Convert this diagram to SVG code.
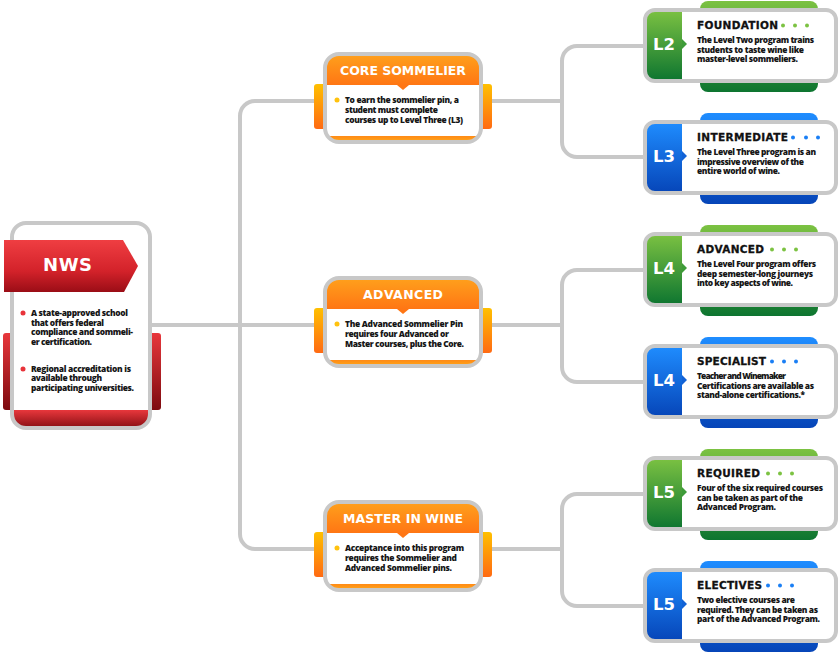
<svg xmlns="http://www.w3.org/2000/svg" width="840" height="652" viewBox="0 0 840 652">
<defs>
<style>
.frame{fill:none;stroke:#c8c8c8;stroke-width:4}
.conn{fill:none;stroke:#c8c8c8;stroke-width:4}
.hd{font-family:"DejaVu Sans",sans-serif;font-weight:700}
.oh{font-size:12.5px;fill:#fff;text-anchor:middle}
.ct{font-size:10.5px;fill:#111;stroke:#111;stroke-width:0.3}
.lbl{font-size:16.5px;fill:#fff;text-anchor:middle}
.b{font-family:"Open Sans","Liberation Sans",sans-serif;font-weight:800;font-size:8.4px;fill:#161616}
</style>
<linearGradient id="gRed" x1="0" y1="0" x2="0" y2="1"><stop offset="0" stop-color="#ef3e42"/><stop offset="0.6" stop-color="#d3222a"/><stop offset="1" stop-color="#9a0d16"/></linearGradient>
<linearGradient id="gRedTab" x1="0" y1="0" x2="0" y2="1"><stop offset="0" stop-color="#e8373c"/><stop offset="1" stop-color="#7d0a0f"/></linearGradient>
<linearGradient id="gOH" x1="0" y1="0" x2="0" y2="1"><stop offset="0" stop-color="#ffa11c"/><stop offset="1" stop-color="#ff7614"/></linearGradient>
<linearGradient id="gOT" x1="0" y1="0" x2="0" y2="1"><stop offset="0" stop-color="#ffc000"/><stop offset="1" stop-color="#ff6a13"/></linearGradient>
<linearGradient id="gOB" x1="0" y1="0" x2="0" y2="1"><stop offset="0" stop-color="#ff8a16"/><stop offset="1" stop-color="#ffb21a"/></linearGradient>
<linearGradient id="gG" x1="0" y1="0" x2="0" y2="1"><stop offset="0" stop-color="#7cc242"/><stop offset="1" stop-color="#0d7530"/></linearGradient>
<linearGradient id="gB" x1="0" y1="0" x2="0" y2="1"><stop offset="0" stop-color="#1f8dff"/><stop offset="1" stop-color="#0645b8"/></linearGradient>
<clipPath id="cpN"><rect x="12" y="223" width="138" height="205" rx="14"/></clipPath>
<clipPath id="cpO"><rect x="325" y="2" width="156" height="88" rx="14"/></clipPath>
<clipPath id="cpC"><rect x="645" y="2" width="191" height="71" rx="10"/></clipPath>
</defs>

<g id="connectors">
<path class="conn" d="M152 325 H314"/>
<path class="conn" d="M314 101 H255 A15 15 0 0 0 240 116 V534 A15 15 0 0 0 255 549 H314"/>
<path class="conn" d="M492 101 H562"/>
<path class="conn" d="M645 46 H577 A15 15 0 0 0 562 61 V142 A15 15 0 0 0 577 157 H645"/>
<path class="conn" d="M492 325 H562"/>
<path class="conn" d="M645 270 H577 A15 15 0 0 0 562 285 V367 A15 15 0 0 0 577 382 H645"/>
<path class="conn" d="M492 549 H562"/>
<path class="conn" d="M645 494 H577 A15 15 0 0 0 562 509 V591 A15 15 0 0 0 577 606 H645"/>
</g>

<g id="nws">
<rect x="3" y="333" width="12" height="77" rx="3" fill="url(#gRedTab)"/>
<rect x="147" y="333" width="14" height="77" rx="3" fill="url(#gRedTab)"/>
<g clip-path="url(#cpN)">
<rect x="12" y="223" width="138" height="205" fill="#fff"/>
<rect x="12" y="410" width="138" height="20" fill="url(#gRedTab)"/>
</g>
<rect class="frame" x="12" y="223" width="138" height="205" rx="14"/>
<polygon points="4,240 123,240 138,266 124,292 4,292" fill="url(#gRed)"/>
<text class="hd" x="67.5" y="271" font-size="18" fill="#fff" text-anchor="middle" textLength="49">NWS</text>
<circle cx="23" cy="313" r="2.5" fill="#e8333a"/>
<circle cx="23" cy="369" r="2.5" fill="#e8333a"/>
<text class="b" x="31" y="316" textLength="97">A state-approved school</text>
<text class="b" x="31" y="325.5" textLength="73">that offers federal</text>
<text class="b" x="31" y="335" textLength="102">compliance and sommeli-</text>
<text class="b" x="31" y="344.5" textLength="61">er certification.</text>
<text class="b" x="31" y="371.5" textLength="100">Regional accreditation is</text>
<text class="b" x="31" y="381" textLength="71">available through</text>
<text class="b" x="31" y="390.5" textLength="103">participating universities.</text>
</g>

<g id="core" transform="translate(0,52)">
<rect x="314" y="32" width="14" height="45" rx="3" fill="url(#gOT)"/>
<rect x="478" y="32" width="14" height="45" rx="3" fill="url(#gOT)"/>
<g clip-path="url(#cpO)">
<rect x="325" y="2" width="156" height="88" fill="#fff"/>
<rect x="325" y="2" width="156" height="31" fill="url(#gOH)"/>
<rect x="325" y="84" width="156" height="8" fill="url(#gOB)"/>
</g>
<polygon points="397,33 409,33 403,38" fill="#ff7614"/>
<rect class="frame" x="325" y="2" width="156" height="88" rx="14"/>
<text class="hd oh" x="403" y="23" textLength="126">CORE SOMMELIER</text>
<circle cx="337" cy="48" r="2.5" fill="#ffc20e"/>
<text class="b" x="345" y="51" textLength="114">To earn the sommelier pin, a</text>
<text class="b" x="345" y="61" textLength="93">student must complete</text>
<text class="b" x="345" y="71" textLength="118">courses up to Level Three (L3)</text>
</g>

<g id="advanced" transform="translate(0,276)">
<rect x="314" y="32" width="14" height="45" rx="3" fill="url(#gOT)"/>
<rect x="478" y="32" width="14" height="45" rx="3" fill="url(#gOT)"/>
<g clip-path="url(#cpO)">
<rect x="325" y="2" width="156" height="88" fill="#fff"/>
<rect x="325" y="2" width="156" height="31" fill="url(#gOH)"/>
<rect x="325" y="84" width="156" height="8" fill="url(#gOB)"/>
</g>
<polygon points="397,33 409,33 403,38" fill="#ff7614"/>
<rect class="frame" x="325" y="2" width="156" height="88" rx="14"/>
<text class="hd oh" x="403" y="23" textLength="80">ADVANCED</text>
<circle cx="337" cy="48" r="2.5" fill="#ffc20e"/>
<text class="b" x="345" y="51" textLength="118">The Advanced Sommelier Pin</text>
<text class="b" x="345" y="61" textLength="104">requires four Advanced or</text>
<text class="b" x="345" y="71" textLength="119">Master courses, plus the Core.</text>
</g>

<g id="master" transform="translate(0,500)">
<rect x="314" y="32" width="14" height="45" rx="3" fill="url(#gOT)"/>
<rect x="478" y="32" width="14" height="45" rx="3" fill="url(#gOT)"/>
<g clip-path="url(#cpO)">
<rect x="325" y="2" width="156" height="88" fill="#fff"/>
<rect x="325" y="2" width="156" height="31" fill="url(#gOH)"/>
<rect x="325" y="84" width="156" height="8" fill="url(#gOB)"/>
</g>
<polygon points="397,33 409,33 403,38" fill="#ff7614"/>
<rect class="frame" x="325" y="2" width="156" height="88" rx="14"/>
<text class="hd oh" x="403" y="23" textLength="120">MASTER IN WINE</text>
<circle cx="337" cy="48" r="2.5" fill="#ffc20e"/>
<text class="b" x="345" y="51" textLength="119">Acceptance into this program</text>
<text class="b" x="345" y="61" textLength="112">requires the Sommelier and</text>
<text class="b" x="345" y="71" textLength="107">Advanced Sommelier pins.</text>
</g>

<g id="foundation" transform="translate(0,8)">
<rect x="700" y="-7" width="118" height="91" rx="8" fill="url(#gG)"/>
<g clip-path="url(#cpC)">
<rect x="645" y="2" width="191" height="71" fill="#fff"/>
<rect x="645" y="2" width="37" height="71" fill="url(#gG)"/>
</g>
<polygon points="682,31 687,36 682,41" fill="#3e9c39"/>
<rect class="frame" x="645" y="2" width="191" height="71" rx="10"/>
<text class="hd lbl" x="664" y="42">L2</text>
<text class="hd ct" x="697" y="21" textLength="81">FOUNDATION</text>
<g fill="#7cc242"><circle cx="783" cy="17.5" r="2"/><circle cx="795" cy="17.5" r="2"/><circle cx="807" cy="17.5" r="2"/></g>
<text class="b" x="697" y="34.8" textLength="117">The Level Two program trains</text>
<text class="b" x="697" y="44.5" textLength="107">students to taste wine like</text>
<text class="b" x="697" y="54.2" textLength="101">master-level sommeliers.</text>
</g>

<g id="intermediate" transform="translate(0,120)">
<rect x="700" y="-7" width="118" height="91" rx="8" fill="url(#gB)"/>
<g clip-path="url(#cpC)">
<rect x="645" y="2" width="191" height="71" fill="#fff"/>
<rect x="645" y="2" width="37" height="71" fill="url(#gB)"/>
</g>
<polygon points="682,31 687,36 682,41" fill="#1262d6"/>
<rect class="frame" x="645" y="2" width="191" height="71" rx="10"/>
<text class="hd lbl" x="664" y="42">L3</text>
<text class="hd ct" x="697" y="21" textLength="91">INTERMEDIATE</text>
<g fill="#1a7ff5"><circle cx="793" cy="17.5" r="2"/><circle cx="806" cy="17.5" r="2"/><circle cx="818" cy="17.5" r="2"/></g>
<text class="b" x="697" y="34.8" textLength="119">The Level Three program is an</text>
<text class="b" x="697" y="44.5" textLength="107">impressive overview of the</text>
<text class="b" x="697" y="54.2" textLength="83">entire world of wine.</text>
</g>

<g id="advanced-l4" transform="translate(0,232)">
<rect x="700" y="-7" width="118" height="91" rx="8" fill="url(#gG)"/>
<g clip-path="url(#cpC)">
<rect x="645" y="2" width="191" height="71" fill="#fff"/>
<rect x="645" y="2" width="37" height="71" fill="url(#gG)"/>
</g>
<polygon points="682,31 687,36 682,41" fill="#3e9c39"/>
<rect class="frame" x="645" y="2" width="191" height="71" rx="10"/>
<text class="hd lbl" x="664" y="42">L4</text>
<text class="hd ct" x="697" y="21" textLength="67">ADVANCED</text>
<g fill="#7cc242"><circle cx="772" cy="17.5" r="2"/><circle cx="784" cy="17.5" r="2"/><circle cx="796" cy="17.5" r="2"/></g>
<text class="b" x="697" y="34.8" textLength="119">The Level Four program offers</text>
<text class="b" x="697" y="44.5" textLength="116">deep semester-long journeys</text>
<text class="b" x="697" y="54.2" textLength="96">into key aspects of wine.</text>
</g>

<g id="specialist" transform="translate(0,344)">
<rect x="700" y="-7" width="118" height="91" rx="8" fill="url(#gB)"/>
<g clip-path="url(#cpC)">
<rect x="645" y="2" width="191" height="71" fill="#fff"/>
<rect x="645" y="2" width="37" height="71" fill="url(#gB)"/>
</g>
<polygon points="682,31 687,36 682,41" fill="#1262d6"/>
<rect class="frame" x="645" y="2" width="191" height="71" rx="10"/>
<text class="hd lbl" x="664" y="42">L4</text>
<text class="hd ct" x="697" y="21" textLength="69">SPECIALIST</text>
<g fill="#1a7ff5"><circle cx="772" cy="17.5" r="2"/><circle cx="784" cy="17.5" r="2"/><circle cx="796" cy="17.5" r="2"/></g>
<text class="b" x="697" y="34.8" textLength="89">Teacher and Winemaker</text>
<text class="b" x="697" y="44.5" textLength="117">Certifications are available as</text>
<text class="b" x="697" y="54.2" textLength="108">stand-alone certifications.*</text>
</g>

<g id="required" transform="translate(0,456)">
<rect x="700" y="-7" width="118" height="91" rx="8" fill="url(#gG)"/>
<g clip-path="url(#cpC)">
<rect x="645" y="2" width="191" height="71" fill="#fff"/>
<rect x="645" y="2" width="37" height="71" fill="url(#gG)"/>
</g>
<polygon points="682,31 687,36 682,41" fill="#3e9c39"/>
<rect class="frame" x="645" y="2" width="191" height="71" rx="10"/>
<text class="hd lbl" x="664" y="42">L5</text>
<text class="hd ct" x="697" y="21" textLength="63">REQUIRED</text>
<g fill="#7cc242"><circle cx="768" cy="17.5" r="2"/><circle cx="780" cy="17.5" r="2"/><circle cx="792" cy="17.5" r="2"/></g>
<text class="b" x="697" y="34.8" textLength="126">Four of the six required courses</text>
<text class="b" x="697" y="44.5" textLength="106">can be taken as part of the</text>
<text class="b" x="697" y="54.2" textLength="79">Advanced Program.</text>
</g>

<g id="electives" transform="translate(0,568)">
<rect x="700" y="-7" width="118" height="91" rx="8" fill="url(#gB)"/>
<g clip-path="url(#cpC)">
<rect x="645" y="2" width="191" height="71" fill="#fff"/>
<rect x="645" y="2" width="37" height="71" fill="url(#gB)"/>
</g>
<polygon points="682,31 687,36 682,41" fill="#1262d6"/>
<rect class="frame" x="645" y="2" width="191" height="71" rx="10"/>
<text class="hd lbl" x="664" y="42">L5</text>
<text class="hd ct" x="697" y="21" textLength="65">ELECTIVES</text>
<g fill="#1a7ff5"><circle cx="768" cy="17.5" r="2"/><circle cx="780" cy="17.5" r="2"/><circle cx="792" cy="17.5" r="2"/></g>
<text class="b" x="697" y="34.8" textLength="98">Two elective courses are</text>
<text class="b" x="697" y="44.5" textLength="121">required. They can be taken as</text>
<text class="b" x="697" y="54.2" textLength="123">part of the Advanced Program.</text>
</g>
</svg>
